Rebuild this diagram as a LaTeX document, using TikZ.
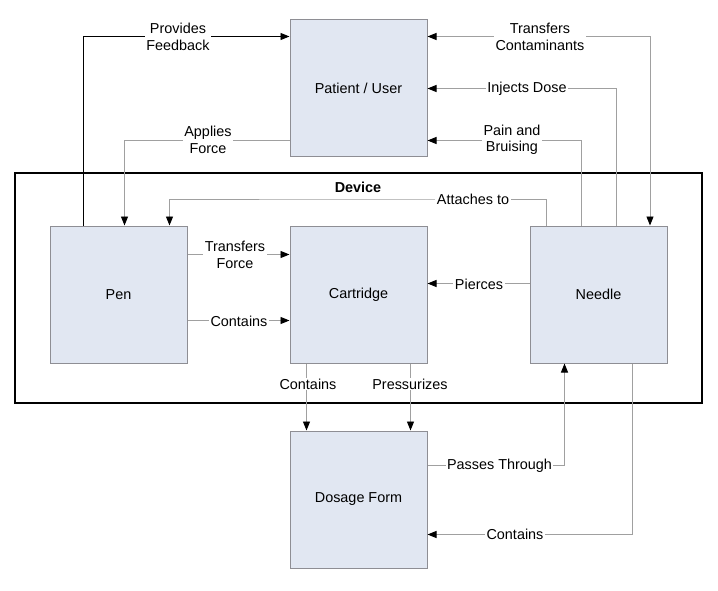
\documentclass[tikz,border=0pt]{standalone}
\usepackage{fontspec}
\setmainfont{Liberation Sans}
\usetikzlibrary{arrows.meta}
\definecolor{boxfill}{HTML}{E1E7F2}
\definecolor{boxborder}{HTML}{8E8E94}
\definecolor{linegray}{HTML}{A0A0A0}
\tikzset{
  blk/.style={draw=boxborder, fill=boxfill, line width=1pt, minimum width=137pt, minimum height=137pt, inner sep=0pt, font=\fontsize{14.4}{16.5}\selectfont},
  lbl/.style={fill=white, inner xsep=1.5pt, inner ysep=0.5pt, align=center, font=\fontsize{14.4}{16.5}\selectfont},
  conn/.style={draw=linegray, line width=0.9pt},
  tip/.style={-{Triangle[length=9pt,width=7pt,color=black]}},
  tipboth/.style={{Triangle[length=9pt,width=7pt,color=black]}-{Triangle[length=9pt,width=7pt,color=black]}},
}
\begin{document}
\begin{tikzpicture}[x=1pt,y=-1pt]
\useasboundingbox (0,0) rectangle (718,591);
% frame
\node[draw=black, line width=1.6pt, minimum width=687pt, minimum height=230pt, inner sep=0pt] (device) at (358.5,288) {};
\node[font=\fontsize{14.4}{16.5}\selectfont\bfseries] (devlbl) at (358,187) {Device};
% blocks
\node[blk] (patient) at (358.5,88.5) {Patient / User};
\node[blk] (pen) at (118.5,294.5) {Pen};
\node[blk] (cart) at (358.5,294.5) {Cartridge};
\node[blk] (needle) at (598.5,294.5) {Needle};
\node[blk] (dose) at (358.5,499.5) {Dosage Form};
% connectors
\draw[conn,draw=black,tip] ([xshift=34pt]pen.north west) |- ([yshift=-17pt]patient.north west);
\draw[conn,tip] ([yshift=17pt]patient.south west) -| ([xshift=75pt]pen.north west);
\draw[conn,tipboth] ([yshift=-17pt]patient.north east) -| ([xshift=120.5pt]needle.north west);
\draw[conn,tip] ([xshift=86.5pt]needle.north west) |- (patient.east);
\draw[conn,tip] ([xshift=51.5pt]needle.north west) |- ([yshift=17pt]patient.south east);
\draw[conn,tip] ([xshift=17pt]needle.north west) |- (347,199) -| ([xshift=120pt]pen.north west);
\draw[conn,tip] ([yshift=-29pt]pen.north east) -- ([yshift=-29pt]cart.north west);
\draw[conn,tip] ([yshift=-95pt]pen.north east) -- ([yshift=-95pt]cart.north west);
\draw[conn,tip] ([yshift=-58pt]needle.north west) -- ([yshift=-58pt]cart.north east);
\draw[conn,tip] ([xshift=17pt]cart.south west) -- ([xshift=17pt]dose.north west);
\draw[conn,tip] ([xshift=-17pt]cart.south east) -- ([xshift=-17pt]dose.north east);
\draw[conn,tip] ([yshift=-35pt]dose.north east) -| ([xshift=35pt]needle.south west);
\draw[conn,tip] ([xshift=103pt]needle.south west) |- ([yshift=34pt]dose.south east);
% labels
\node[lbl] (l1) at (178,37) {Provides\\Feedback};
\node[lbl] (l2) at (208,140) {Applies\\Force};
\node[lbl] (l3) at (540,37) {Transfers\\Contaminants};
\node[lbl] (l4) at (527,89) {Injects Dose};
\node[lbl] (l5) at (512,140) {Pain and\\Bruising};
\node[lbl] (l6) at (473,199) {Attaches to};
\node[lbl] (l7) at (235,255) {Transfers\\Force};
\node[lbl] (l8) at (239,321) {Contains};
\node[lbl] (l9) at (479,284) {Pierces};
\node[lbl] (l10) at (308,384) {Contains};
\node[lbl] (l11) at (410,384) {Pressurizes};
\node[lbl] (l12) at (499.5,466) {Passes Through};
\node[lbl] (l13) at (515,534) {Contains};
\end{tikzpicture}
\end{document}
